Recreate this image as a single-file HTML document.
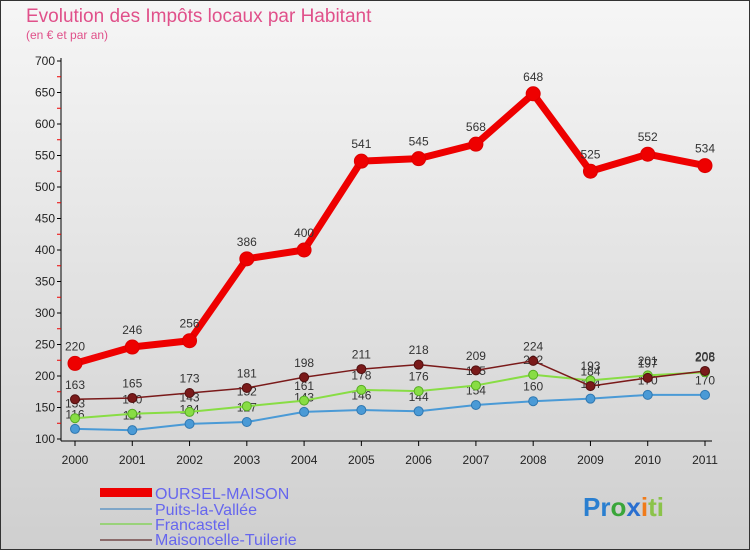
<!DOCTYPE html>
<html><head><meta charset="utf-8"><style>
body{margin:0;width:750px;height:550px;overflow:hidden;font-family:"Liberation Sans",sans-serif}
svg{display:block}
</style></head><body>
<svg id="chart" width="750" height="550" xmlns="http://www.w3.org/2000/svg">
<defs><linearGradient id="bg" x1="0" y1="0" x2="0" y2="1"><stop offset="0" stop-color="#f6f6f6"/><stop offset="1" stop-color="#cfcfcf"/></linearGradient></defs>
<rect x="0.5" y="0.5" width="749" height="549" fill="url(#bg)" stroke="#333"/>
<text x="26" y="22" font-size="19" fill="#e0508a">Evolution des Impôts locaux par Habitant</text>
<text x="26" y="39" font-size="12" fill="#e0508a">(en € et par an)</text>
<g id="axes"></g><g id="series"></g>
<g>
<rect x="100" y="488" width="52" height="9" fill="#ee0000"/>
<text x="155" y="499" font-size="16" fill="#6666ee">OURSEL-MAISON</text>
<rect x="100" y="508" width="52" height="2" fill="#7fa6c8"/>
<text x="155" y="515" font-size="16" fill="#6666ee">Puits-la-Vallée</text>
<rect x="100" y="523" width="52" height="2" fill="#99d27a"/>
<text x="155" y="530" font-size="16" fill="#6666ee">Francastel</text>
<rect x="100" y="539" width="52" height="2" fill="#8b6b6b"/>
<text x="155" y="545" font-size="16" fill="#6666ee">Maisoncelle-Tuilerie</text>
</g>
<text x="583" y="516" font-size="26" font-weight="bold"><tspan fill="#2a7fd0">Pr</tspan><tspan fill="#3aa63a">o</tspan><tspan fill="#2a6fd0">x</tspan><tspan fill="#f07b1a">i</tspan><tspan fill="#8bc34a">ti</tspan></text>
</svg>
<script>
const years=["2000","2001","2002","2003","2004","2005","2006","2007","2008","2009","2010","2011"];
const yTicks=[100,150,200,250,300,350,400,450,500,550,600,650,700];
const oursel=[220,246,256,386,400,541,545,568,648,525,552,534];
const puits=[116,114,124,127,143,146,144,154,160,164,170,170];
const francastel=[133,140,143,152,161,178,176,185,202,193,201,206];
const maisoncelle=[163,165,173,181,198,211,218,209,224,184,197,208];
const NS="http://www.w3.org/2000/svg";
const X=i=>75+i*(630/11);
const Y=v=>439-(v-100)*(378/600);
function mk(t,a,p){const e=document.createElementNS(NS,t);for(const k in a)e.setAttribute(k,a[k]);p.appendChild(e);return e;}
const ax=document.getElementById('axes');
let l=mk('line',{x1:61,y1:58,x2:61,y2:441,stroke:'#000'},ax);

l=mk('line',{x1:61,y1:441,x2:712,y2:441,stroke:'#000'},ax);

yTicks.forEach(v=>{
  mk('line',{x1:57,y1:Y(v),x2:61,y2:Y(v),stroke:'#000'},ax);
  if(v<700)mk('line',{x1:57,y1:Y(v+25),x2:61,y2:Y(v+25),stroke:'#e00'},ax);
  const t=mk('text',{x:55,y:Y(v)+4,'font-size':12,'text-anchor':'end',fill:'#222'},ax);t.textContent=v;
  
});
years.forEach((y,i)=>{
  mk('line',{x1:X(i),y1:441,x2:X(i),y2:446,stroke:'#000'},ax);
  const t=mk('text',{x:X(i),y:464,'font-size':12,'text-anchor':'middle',fill:'#222'},ax);t.textContent=y;
  
});
const sg=document.getElementById('series');
function series(name,data,color,w,r,stroke){
  const g=mk('g',{},sg);
  
  
  mk('polyline',{points:data.map((v,i)=>X(i)+','+Y(v)).join(' '),fill:'none',stroke:color,'stroke-width':w,'stroke-linejoin':'round'},g);
  data.forEach((v,i)=>{
    const c=mk('circle',{cx:X(i),cy:Y(v),r:r,fill:color,stroke:stroke,'stroke-width':1},g);
    
    
    const t=mk('text',{x:X(i),y:Y(v)-(r+6),'font-size':12,'text-anchor':'middle',fill:'#333'},g);t.textContent=v;
    
    
  });
}
series('puits',puits,'#4a9ad6',2,4.5,'#2f77b0');
series('francastel',francastel,'#88dd44',2,4.5,'#55aa22');
series('maisoncelle',maisoncelle,'#7a1a1a',1.5,4.5,'#501010');
series('oursel',oursel,'#ee0000',7,7,'#dd0000');
</script>
</body></html>
